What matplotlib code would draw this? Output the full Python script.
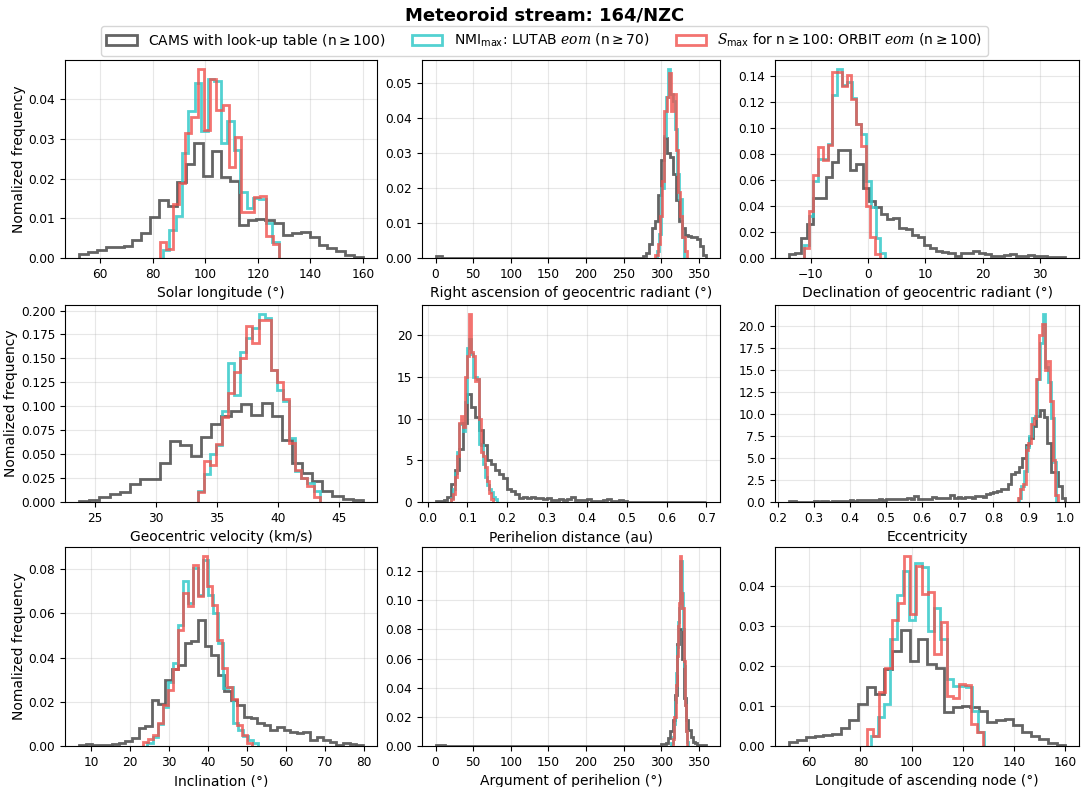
import numpy as np
import matplotlib
matplotlib.use("Agg")
import matplotlib.pyplot as plt
from matplotlib.ticker import MaxNLocator

plt.rcParams['mathtext.fontset'] = 'custom'
plt.rcParams['mathtext.it'] = 'DejaVu Serif:italic'
plt.rcParams['mathtext.rm'] = 'DejaVu Sans'

# -----------------------------
# Histogram data: (first bin edge, bin width, normalized heights)
# -----------------------------
# Solar longitude
sl_cams = (52.0, 3.375, [0.0010, 0.0015, 0.0020, 0.0027, 0.0027, 0.0029, 0.0046, 0.0063,
                         0.0103, 0.0145, 0.0130, 0.0191, 0.0237, 0.0289, 0.0206, 0.0269,
                         0.0203, 0.0195, 0.0084, 0.0095, 0.0098, 0.0095, 0.0088, 0.0059,
                         0.0063, 0.0066, 0.0052, 0.0034, 0.0025, 0.0018, 0.0008, 0.0002])
sl_lutab = (83.8, 2.455, [0.0021, 0.0070, 0.0105, 0.0264, 0.0371, 0.0442, 0.0319, 0.0450,
                          0.0447, 0.0289, 0.0344, 0.0271, 0.0165, 0.0126, 0.0151, 0.0148,
                          0.0088, 0.0040])
sl_orbit = (82.8, 2.38, [0.0040, 0.0022, 0.0137, 0.0190, 0.0316, 0.0356, 0.0475, 0.0323,
                         0.0450, 0.0373, 0.0386, 0.0229, 0.0306, 0.0117, 0.0117, 0.0153,
                         0.0155, 0.0055, 0.0036])

# Right ascension
ra_cams = (0.0, 4.0, [0.0005, 0.0005] + [0.0] * 67 +
           [0.0007, 0.0015, 0.0040, 0.0085, 0.0105, 0.0180, 0.0280, 0.0345, 0.0300,
            0.0290, 0.0240, 0.0165, 0.0105, 0.0085, 0.0065, 0.0062, 0.0060, 0.0060,
            0.0055, 0.0035, 0.0010])
ra_lutab = (294.0, 3.0, [0.002, 0.007, 0.020, 0.035, 0.046, 0.054, 0.047, 0.045, 0.037,
                         0.024, 0.017, 0.006])
ra_orbit = (292.0, 3.0, [0.001, 0.004, 0.012, 0.022, 0.042, 0.046, 0.053, 0.042, 0.047,
                         0.031, 0.019, 0.012, 0.006, 0.002])

# Declination
dec_cams = (-13.8, 1.07, [0.003, 0.004, 0.015, 0.026, 0.046, 0.046, 0.062, 0.074, 0.083,
                          0.083, 0.068, 0.072, 0.054, 0.044, 0.039, 0.034, 0.030, 0.031,
                          0.023, 0.022, 0.018, 0.016, 0.010, 0.008, 0.005, 0.0046, 0.0036,
                          0.0018, 0.004, 0.004, 0.005, 0.004, 0.0033, 0.0013, 0.0018,
                          0.0026, 0.003, 0.0015, 0.0015, 0.0026, 0.0018, 0.0013, 0.001,
                          0.001, 0.001])
dec_lutab = (-11.2, 0.835, [0.010, 0.032, 0.059, 0.076, 0.076, 0.088, 0.125, 0.145, 0.133,
                            0.135, 0.123, 0.103, 0.095, 0.059, 0.039, 0.015, 0.004])
dec_orbit = (-11.2, 0.83, [0.008, 0.036, 0.064, 0.085, 0.075, 0.087, 0.143, 0.143, 0.132,
                           0.141, 0.122, 0.103, 0.086, 0.040, 0.016, 0.003])

# Geocentric velocity
vg_cams = (23.7, 0.83, [0.001, 0.002, 0.005, 0.008, 0.010, 0.019, 0.024, 0.024, 0.041,
                        0.064, 0.060, 0.048, 0.068, 0.082, 0.090, 0.095, 0.102, 0.091,
                        0.103, 0.090, 0.065, 0.041, 0.030, 0.022, 0.011, 0.006, 0.003,
                        0.002])
vg_lutab = (33.4, 0.5, [0.012, 0.029, 0.050, 0.060, 0.095, 0.145, 0.112, 0.157, 0.171,
                        0.182, 0.196, 0.192, 0.138, 0.117, 0.105, 0.067, 0.032, 0.025,
                        0.020, 0.011])
vg_orbit = (33.4, 0.5, [0.010, 0.043, 0.039, 0.061, 0.089, 0.114, 0.136, 0.150, 0.184,
                        0.166, 0.190, 0.190, 0.138, 0.125, 0.108, 0.062, 0.033, 0.025,
                        0.017, 0.005])

# Perihelion distance
q_cams = (0.02, 0.01, [0.1, 0.1, 0.2, 0.6, 2.2, 3.8, 6.3, 9.5, 12.9, 11.4, 10.2, 8.6, 6.8,
                       5.0, 4.5, 3.8, 3.4, 2.9, 1.6, 1.3, 0.9, 0.5, 0.6, 0.5, 0.55, 0.5,
                       0.45, 0.4, 0.5, 0.2, 0.2, 0.3, 0.2, 0.3, 0.6, 0.2, 0.2, 0.2, 0.3,
                       0.1, 0.1, 0.1, 0.2, 0.3, 0.1, 0.1, 0.2, 0.1, 0.05, 0.05, 0.0,
                       0.05, 0.0, 0.0, 0.0, 0.0, 0.0, 0.0, 0.05, 0.0, 0.0, 0.0, 0.0, 0.0,
                       0.0, 0.05, 0.0, 0.05])
q_lutab = (0.06, 0.005, [0.5, 1.5, 3.5, 6.0, 9.3, 9.5, 8.5, 12.0, 18.5, 19.5, 17.8, 15.0,
                         15.0, 14.8, 7.0, 6.8, 4.5, 3.0, 2.0, 1.5, 1.2, 0.6, 0.3])
q_orbit = (0.06, 0.005, [0.3, 1.0, 3.0, 5.5, 9.5, 10.3, 9.0, 15.0, 17.5, 22.5, 18.0, 17.5,
                         14.5, 14.8, 10.0, 6.0, 5.5, 4.2, 2.5, 1.1, 0.3])

# Eccentricity
e_cams = (0.23, 0.01, [0.1, 0.1, 0.05, 0.05, 0.05, 0.05, 0.05,
                       0.1, 0.05, 0.1, 0.1, 0.05, 0.1, 0.15, 0.1, 0.1, 0.15,
                       0.2, 0.15, 0.25, 0.2, 0.2, 0.25, 0.2, 0.25, 0.3, 0.2,
                       0.3, 0.35, 0.3, 0.35, 0.3, 0.35, 0.4, 0.35, 0.7, 0.3,
                       0.35, 0.3, 0.35, 0.55, 0.4, 0.5, 0.45, 0.5, 0.8, 0.45,
                       0.6, 0.5, 0.55, 0.6, 0.5, 0.65, 0.7, 0.6, 0.9, 1.0,
                       1.1, 1.2, 1.5, 1.5, 2.0, 3.2, 3.4, 4.0, 5.0, 6.5,
                       7.3, 8.6, 9.8, 10.5, 9.7, 6.7, 3.4, 3.4, 1.8, 0.5])
e_lutab = (0.87, 0.0075, [0.5, 1.8, 3.5, 6.2, 7.5, 9.5, 9.8, 14.0, 18.0, 21.3, 15.3, 13.6,
                          9.5, 4.5])
e_orbit = (0.8675, 0.0075, [0.4, 1.5, 2.0, 5.9, 6.7, 8.9, 9.5, 14.0, 19.0, 20.2, 15.0,
                            16.0, 11.5, 4.8, 0.8])

# Inclination
i_cams = (7.0, 1.69, [0.0005, 0.0008, 0.0005, 0.0003, 0.0005, 0.0008, 0.0015, 0.0021,
                      0.0035, 0.0080, 0.0092, 0.0208, 0.0190, 0.0300, 0.0350, 0.0367,
                      0.0468, 0.0477, 0.0570, 0.0450, 0.0410, 0.0320, 0.0250, 0.0210,
                      0.0186, 0.0133, 0.0125, 0.0106, 0.0095, 0.0072, 0.0085, 0.0072,
                      0.0062, 0.0057, 0.0063, 0.0027, 0.0039, 0.0027, 0.0017, 0.0006,
                      0.0015, 0.0009, 0.0003])
i_lutab = (24.5, 1.285, [0.0015, 0.0042, 0.0098, 0.0178, 0.0291, 0.0374, 0.0548, 0.0744,
                         0.0646, 0.0804, 0.0683, 0.0842, 0.0683, 0.0600, 0.0465, 0.0261,
                         0.0268, 0.0103, 0.0072, 0.0045, 0.0027, 0.0012])
i_orbit = (23.3, 1.275, [0.0020, 0.0030, 0.0050, 0.0103, 0.0186, 0.0254, 0.0347, 0.0523,
                         0.0691, 0.0631, 0.0820, 0.0677, 0.0857, 0.0722, 0.0639, 0.0480,
                         0.0352, 0.0269, 0.0211, 0.0095, 0.0050, 0.0015])

# Argument of perihelion
w_cams = (0.0, 3.0, [0.001, 0.001, 0.001, 0.001] + [0.0] * 96 +
          [0.0012, 0.0015, 0.002, 0.0055, 0.010, 0.018, 0.035, 0.070, 0.080, 0.060,
           0.033, 0.018, 0.011, 0.006, 0.003, 0.002, 0.001, 0.0008, 0.0007, 0.0005])
w_lutab = (313.5, 1.5, [0.002, 0.006, 0.015, 0.030, 0.050, 0.068, 0.085, 0.095, 0.127,
                        0.105, 0.080, 0.055, 0.028, 0.010, 0.003])
w_orbit = (316.0, 1.5, [0.005, 0.020, 0.042, 0.062, 0.082, 0.098, 0.130, 0.105, 0.095,
                        0.058, 0.028, 0.010])

# Longitude of ascending node
node_cams = (52.0, 3.375, [0.0010, 0.0015, 0.0022, 0.0026, 0.0028, 0.0030, 0.0046, 0.0065,
                           0.0105, 0.0147, 0.0131, 0.0192, 0.0238, 0.0290, 0.0211, 0.0268,
                           0.0205, 0.0195, 0.0085, 0.0097, 0.0101, 0.0097, 0.0087, 0.0059,
                           0.0066, 0.0067, 0.0053, 0.0034, 0.0025, 0.0017, 0.0008, 0.0002])
node_lutab = (84.3, 2.45, [0.0024, 0.0072, 0.0105, 0.0267, 0.0377, 0.0438, 0.0315, 0.0456,
                           0.0447, 0.0287, 0.0344, 0.0268, 0.0167, 0.0150, 0.0150, 0.0148,
                           0.0088, 0.0035])
node_orbit = (82.6, 2.39, [0.0043, 0.0025, 0.0135, 0.0195, 0.0315, 0.0358, 0.0473, 0.0330,
                           0.0450, 0.0380, 0.0385, 0.0230, 0.0310, 0.0125, 0.0120, 0.0155,
                           0.0152, 0.0055, 0.0035])

xlabels = ["Solar longitude (°)", "Right ascension of geocentric radiant (°)",
           "Declination of geocentric radiant (°)", "Geocentric velocity (km/s)",
           "Perihelion distance (au)", "Eccentricity", "Inclination (°)",
           "Argument of perihelion (°)", "Longitude of ascending node (°)"]

panels = [(sl_cams, sl_lutab, sl_orbit), (ra_cams, ra_lutab, ra_orbit),
          (dec_cams, dec_lutab, dec_orbit), (vg_cams, vg_lutab, vg_orbit),
          (q_cams, q_lutab, q_orbit), (e_cams, e_lutab, e_orbit),
          (i_cams, i_lutab, i_orbit), (w_cams, w_lutab, w_orbit),
          (node_cams, node_lutab, node_orbit)]

labels = [r"CAMS with look-up table (n$\geq$100)",
          r"NMI$_{\mathrm{max}}$: LUTAB $eom$ (n$\geq$70)",
          r"$S_{\mathrm{max}}$ for n$\geq$100: ORBIT $eom$ (n$\geq$100)"]
colors = ["#3d3d3d", "#35c9c9", "#f0504c"]
alphas = [0.8, 0.85, 0.8]

# y tick density per panel (inclination panel uses coarser steps)
y_nbins = [9, 9, 9, 9, 9, 9, 8, 9, 9]
nice_steps = [1, 2, 2.5, 5, 10]


def draw_step(ax, series, color, alpha, label):
    lo, width, vals = series
    vals = np.asarray(vals, dtype=float)
    edges = lo + width * np.arange(len(vals) + 1)
    centers = 0.5 * (edges[:-1] + edges[1:])
    ax.hist(centers, bins=edges, weights=vals, histtype='step', color=color,
            alpha=alpha, linewidth=2, label=label)


fig = plt.figure(figsize=(10.89, 7.87), dpi=100)

W, H = 1089.0, 787.0
col_px = [(65, 377), (422, 720), (775, 1079)]
row_px = [(60, 258), (305, 502), (547, 746)]

axes = []
for k, (series, xl) in enumerate(zip(panels, xlabels)):
    r, c = divmod(k, 3)
    x0, x1 = col_px[c]
    y0, y1 = row_px[r]
    ax = fig.add_axes([x0 / W, 1 - y1 / H, (x1 - x0) / W, (y1 - y0) / H])
    for s, col, a, lab in zip(series, colors, alphas, labels):
        draw_step(ax, s, col, a, lab)
    ax.xaxis.set_major_locator(MaxNLocator(nbins=9, steps=nice_steps))
    ax.yaxis.set_major_locator(MaxNLocator(nbins=y_nbins[k], steps=nice_steps))
    ax.grid(True, alpha=0.3)
    ax.set_axisbelow(True)
    ax.set_xlabel(xl, fontsize=10)
    ax.tick_params(labelsize=8.7)
    if c == 0:
        ax.set_ylabel("Nomalized frequency", fontsize=10, labelpad=2)
    axes.append(ax)

fig.suptitle("Meteoroid stream: 164/NZC", fontsize=13, fontweight='bold',
             y=1 - 16 / H, va='center')
handles, labs = axes[0].get_legend_handles_labels()
fig.legend(handles, labs, loc='center', bbox_to_anchor=(0.5, 1 - 41 / H), ncol=3,
           fontsize=10, columnspacing=1.9, handlelength=2.2)

fig.savefig("out.png", dpi=100)
